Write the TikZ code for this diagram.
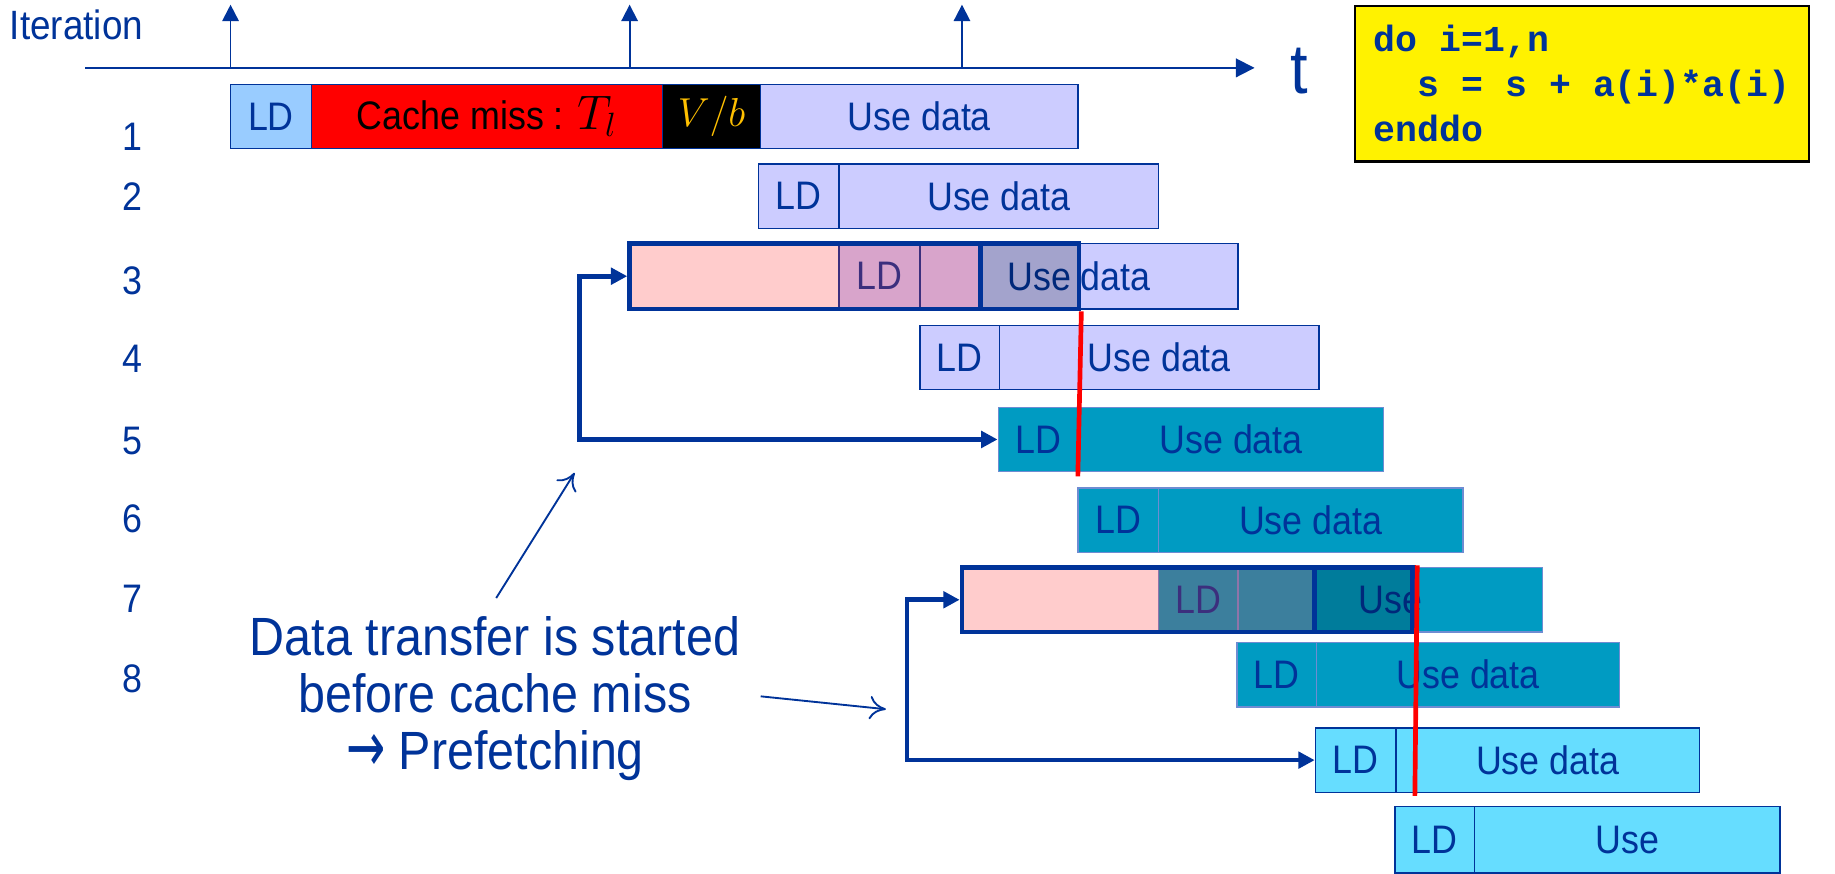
\documentclass[tikz,border=0pt]{standalone}
\usepackage{graphicx}
\usepackage{fontspec}
\setmainfont{Liberation Sans}[FakeStretch=0.9]
\newfontfamily\codefont{Liberation Mono}
\newfontfamily\symfont{DejaVu Sans}
\usetikzlibrary{arrows.meta}
\definecolor{navy}{RGB}{0,51,153}
\definecolor{ldblue}{RGB}{153,204,255}
\definecolor{lav}{RGB}{204,204,255}
\definecolor{teal}{RGB}{0,155,194}
\definecolor{cyanbox}{RGB}{102,221,255}
\definecolor{tealedge}{RGB}{110,140,210}
\definecolor{vb}{RGB}{255,192,0}
\definecolor{ovred}{RGB}{255,38,38}
% one monospace character cell
\newcommand\csp{\hphantom{x}}
% \rseg{name}{style}{x0}{y0}{x1}{y1}{text}
\newcommand\rseg[7]{\node[#2, minimum width={(#5-#3)*0.5pt}, minimum height={(#6-#4)*0.5pt}]
  (#1) at ({(#3+#5)/2},{(#4+#6)/2}) {#7};}
\begin{document}
\begin{tikzpicture}[x=0.5pt,y=-0.5pt,
  box/.style={draw=navy, line width=0.6pt, inner sep=0pt, text=navy,
    font=\fontsize{17}{20}\selectfont},
  lavbox/.style={box, fill=lav},
  tealbox/.style={box, fill=teal, draw=tealedge},
  cyanbx/.style={box, fill=cyanbox},
  frame/.style={draw=navy, line width=2pt, inner sep=0pt},
  redov/.style={fill=ovred, fill opacity=0.235},
  darkov/.style={fill=black, fill opacity=0.2},
  marker/.style={draw=red, line width=2pt},
  bigarrow/.style={draw=navy, line width=2pt, {Triangle[length=7pt,width=7pt]}-{Triangle[length=7pt,width=7pt]}},
  thinarrow/.style={draw=navy, line width=0.8pt, -{To[length=7pt,width=10pt]}},
  tick/.style={draw=navy, line width=0.8pt, -{Triangle[length=7pt,width=7pt]}},
  rowlabel/.style={text=navy, font=\fontsize{17}{20}\selectfont}
]
\useasboundingbox (0,0) rectangle (1568,746);

% axis
\coordinate (axL) at (73,58);
\coordinate (axR) at (1072,58);
\draw[draw=navy, line width=0.8pt, -{Triangle[length=8pt,width=8pt]}] (axL) -- (axR);
\coordinate (t1) at (197,58); \coordinate (t2) at (538,58); \coordinate (t3) at (822,58);
\draw[tick] (t1) -- ++(0,-54);
\draw[tick] (t2) -- ++(0,-54);
\draw[tick] (t3) -- ++(0,-54);
\node[text=navy, font=\fontsize{17.5}{20}\selectfont, anchor=west, inner sep=0pt] (iter) at (8,21) {Iteration};
\node[text=navy, font=\fontsize{30}{32}\selectfont] (tlab) at (1110,61) {t};

% code box
\node[draw=black, line width=1pt, fill=yellow, anchor=north west,
  minimum width=194pt, minimum height=66.5pt, inner xsep=8pt, inner ysep=0pt,
  text width=178pt, align=left, text=navy,
  font=\codefont\bfseries\fontsize{15.6}{19.3}\selectfont] (code) at (1157,4)
  {do\csp i=1,n\\\makebox[0pt][l]{\csp\csp s\csp=\csp s\csp+\csp a(i)*a(i)}\\enddo};

% row labels
\node[rowlabel] (l1) at (113,117) {1};
\node[rowlabel] (l2) at (113,168) {2};
\node[rowlabel] (l3) at (113,240) {3};
\node[rowlabel] (l4) at (113,307) {4};
\node[rowlabel] (l5) at (113,377) {5};
\node[rowlabel] (l6) at (113,443) {6};
\node[rowlabel] (l7) at (113,512) {7};
\node[rowlabel] (l8) at (113,580) {8};

% row 1
\rseg{r1ld}{box, fill=ldblue}{197}{72}{266}{127}{LD}
\rseg{r1miss}{box, fill=red, text=black}{266}{72}{566}{127}{Cache miss : {\fontsize{20}{22}\selectfont$T_l$}}
\rseg{r1vb}{box, fill=black, text=vb}{566}{72}{650}{127}{$V/b$}
\rseg{r1use}{lavbox}{650}{72}{921}{127}{Use data}
% row 2
\rseg{r2ld}{lavbox}{648}{140}{717}{195}{LD}
\rseg{r2use}{lavbox}{717}{140}{990}{195}{Use data}
% row 3
\rseg{r3ld}{lavbox}{717}{208}{786}{264}{LD}
\rseg{r3use}{lavbox}{786}{208}{1058}{264}{Use data}
% row 4
\rseg{r4ld}{lavbox}{786}{278}{854}{333}{LD}
\rseg{r4use}{lavbox}{854}{278}{1127}{333}{Use data}
% row 5
\rseg{r5ld}{tealbox}{853}{348}{922}{403}{LD}
\rseg{r5use}{tealbox}{922}{348}{1182}{403}{Use data}
% row 6
\rseg{r6ld}{tealbox}{921}{417}{990}{472}{LD}
\rseg{r6use}{tealbox}{990}{417}{1250}{472}{Use data}
% row 7
\rseg{r7ld}{tealbox}{990}{485}{1058}{540}{LD}
\rseg{r7use}{tealbox}{1058}{485}{1318}{540}{Use}
% row 8
\rseg{r8ld}{tealbox}{1057}{549}{1125}{604}{LD}
\rseg{r8use}{tealbox}{1125}{549}{1384}{604}{Use data}
% row 9
\rseg{r9ld}{cyanbx}{1124}{622}{1193}{677}{LD}
\rseg{r9use}{cyanbx}{1193}{622}{1452}{677}{Use data}
% row 10
\rseg{r10ld}{cyanbx}{1192}{689}{1260}{746}{LD}
\rseg{r10use}{cyanbx}{1260}{689}{1521}{746}{Use}

% overlays row 3
\fill[redov] (538,208) rectangle (838,264);
\fill[darkov] (838,208) rectangle (922,264);
\rseg{r3frame}{frame}{538}{208}{922}{264}{}
\rseg{r3cur}{frame}{838}{208}{922}{264}{}
% overlays row 7
\fill[redov] (822,485) rectangle (1123,540);
\fill[darkov] (1123,485) rectangle (1207,540);
\rseg{r7frame}{frame}{822}{485}{1207}{540}{}
\rseg{r7cur}{frame}{1123}{485}{1207}{540}{}

% red markers
\coordinate (m1end) at (921,407);
\draw[marker] (r3frame.south east) -- (m1end);
\coordinate (m2end) at (1209,680);
\draw[marker] ([xshift=1pt]r7frame.north east) -- (m2end);

% prefetch arrows
\draw[bigarrow] (r3frame.west) -- ++(-41,0) |- (r5ld.west);
\draw[bigarrow] (r7frame.west) -- ++(-45,0) |- (r9ld.west);

% explanation
\node[text=navy, align=center, font=\fontsize{23}{24.5}\selectfont] (expl) at (423,597)
  {Data transfer is started\\before cache miss\\{\symfont\fontsize{20}{24}\selectfont\raisebox{-0.5pt}{\scalebox{1}[1.5]{→}}} Prefetching};
\coordinate (a1s) at (424,511);
\coordinate (a1e) at (491,404);
\draw[thinarrow] (a1s) -- (a1e);
\coordinate (a2s) at (650,595);
\coordinate (a2e) at (757,606);
\draw[thinarrow] (a2s) -- (a2e);
\end{tikzpicture}
\end{document}
